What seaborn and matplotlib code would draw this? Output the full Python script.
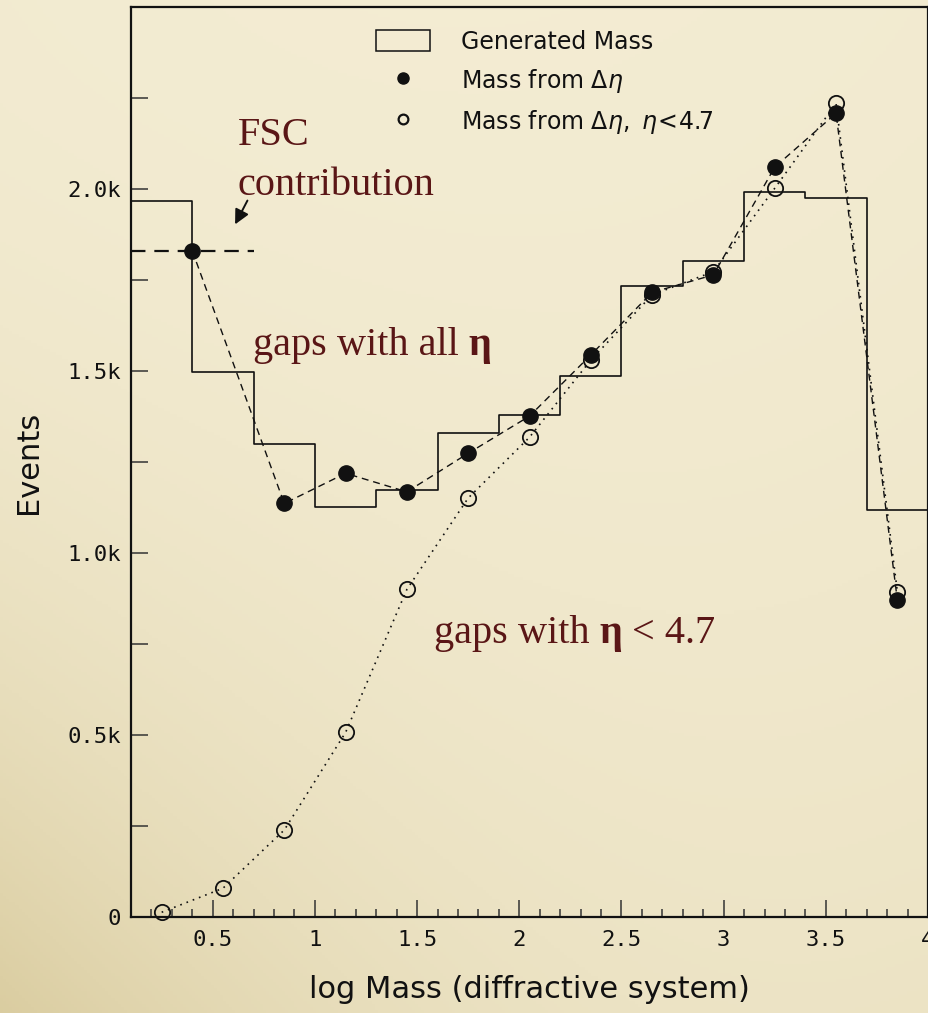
import numpy as np
import matplotlib
matplotlib.use("Agg")
import matplotlib.pyplot as plt
from matplotlib.patches import Rectangle
from matplotlib.lines import Line2D
from matplotlib.ticker import MultipleLocator, FixedLocator, FixedFormatter
import seaborn as sns

# ---- data -------------------------------------------------------------
bin_edges = [0.1, 0.4, 0.7, 1.0, 1.3, 1.6, 1.9, 2.2, 2.5, 2.8, 3.1, 3.4, 3.7, 4.0]
generated_mass = [1968, 1496, 1300, 1127, 1173, 1330, 1379, 1486, 1734, 1803, 1993, 1976, 1118]

gap_all_x = [0.40, 0.85, 1.15, 1.45, 1.75, 2.05, 2.35, 2.65, 2.95, 3.25, 3.55, 3.85]
gap_all_y = [1830, 1136, 1219, 1168, 1274, 1376, 1544, 1716, 1764, 2060, 2208, 871]

gap_cut_x = [0.25, 0.55, 0.85, 1.15, 1.45, 1.75, 2.05, 2.35, 2.65, 2.95, 3.25, 3.55, 3.85]
gap_cut_y = [13, 79, 239, 507, 900, 1151, 1318, 1530, 1709, 1773, 2002, 2235, 894]

fsc_range = [0.1, 0.7]
fsc_value = 1830

y_ticks = [0, 500, 1000, 1500, 2000]
y_tick_labels = ["0", "0.5k", "1.0k", "1.5k", "2.0k"]
x_ticks = [0.5, 1, 1.5, 2, 2.5, 3, 3.5, 4]
x_tick_labels = ["0.5", "1", "1.5", "2", "2.5", "3", "3.5", "4"]

legend_labels = ["Generated Mass", r"Mass from $\Delta\eta$", r"Mass from $\Delta\eta,\ \eta\!<\!4.7$"]

# ---- style -------------------------------------------------------------
sns.set_style("ticks")
plt.rcParams["font.family"] = ["DejaVu Sans"]
plt.rcParams["mathtext.fontset"] = "dejavusans"
plt.rcParams["text.color"] = "#111111"

W, H = 929, 1013
fig = plt.figure(figsize=(W / 100, H / 100), dpi=100)

# parchment backdrop
bg_ax = fig.add_axes([0, 0, 1, 1], zorder=-10)
gx, gy = np.meshgrid(np.linspace(0, 1, 300), np.linspace(0, 1, 330))
light = np.array([244, 237, 212]) / 255.0
dark = np.array([208, 192, 140]) / 255.0
w = 0.16 * gy + 0.50 * (gy * (1 - gx)) ** 2.4
w += 0.10 * ((gx - 0.5) ** 2 + (gy - 0.45) ** 2)
w = np.clip(w, 0, 1)
img = light[None, None, :] * (1 - w[..., None]) + dark[None, None, :] * w[..., None]
bg_ax.imshow(img, extent=[0, 1, 0, 1], aspect="auto", origin="upper")
bg_ax.axis("off")

ax = fig.add_axes([131 / W, 96 / H, 797 / W, 910 / H])
ax.set_facecolor("none")

ink = "#111111"
maroon = "#5a1616"

# generated mass histogram (step outline)
centers = [(a + b) / 2 for a, b in zip(bin_edges[:-1], bin_edges[1:])]
sns.histplot(x=centers, weights=generated_mass, bins=bin_edges, element="step",
             fill=False, color=ink, linewidth=1.2, ax=ax)

# FSC contribution band
sns.lineplot(x=fsc_range, y=[fsc_value] * len(fsc_range), color=ink, linewidth=1.6,
             linestyle=(0, (6.5, 4)), ax=ax)

# reconstructed mass, gaps over all eta
sns.lineplot(x=gap_all_x, y=gap_all_y, color=ink, linewidth=1.0,
             linestyle=(0, (5, 3.5)), marker="o", markersize=11,
             markerfacecolor=ink, markeredgecolor=ink, markeredgewidth=1,
             ax=ax, clip_on=False, zorder=4)

# reconstructed mass, gaps restricted to eta < 4.7
sns.lineplot(x=gap_cut_x, y=gap_cut_y, color=ink, linewidth=1.2,
             linestyle=(0, (1, 3)), marker="o", markersize=11,
             markerfacecolor="none", markeredgecolor=ink, markeredgewidth=1.3,
             ax=ax, clip_on=False, zorder=3)

ax.set_xlim(0.1, 4.0)
ax.set_ylim(0, 2500)

# ticks
ax.xaxis.set_major_locator(FixedLocator(x_ticks))
ax.xaxis.set_major_formatter(FixedFormatter(x_tick_labels))
ax.xaxis.set_minor_locator(MultipleLocator(0.1))
ax.yaxis.set_major_locator(FixedLocator(y_ticks))
ax.yaxis.set_major_formatter(FixedFormatter(y_tick_labels))
ax.yaxis.set_minor_locator(MultipleLocator(250))
ax.tick_params(axis="both", which="both", direction="in", color="#333333",
               top=False, right=False)
ax.tick_params(axis="x", which="major", length=12, width=1.1, pad=9)
ax.tick_params(axis="x", which="minor", length=6, width=1.1)
ax.tick_params(axis="y", which="both", length=12, width=1.1, pad=7)
for lab in ax.get_xticklabels() + ax.get_yticklabels():
    lab.set_fontfamily("DejaVu Sans Mono")
    lab.set_fontsize(16)
    lab.set_color(ink)

for sp in ax.spines.values():
    sp.set_visible(True)
    sp.set_linewidth(1.6)
    sp.set_color(ink)

ax.set_xlabel("log Mass (diffractive system)", fontsize=22, labelpad=18, color=ink)
ax.set_ylabel("Events", fontsize=22, labelpad=18, color=ink)

# legend
handles = [
    Rectangle((0, 0), 1, 1, facecolor="none", edgecolor=ink, linewidth=1.1),
    Line2D([], [], linestyle="none", marker="o", markersize=8,
           markerfacecolor=ink, markeredgecolor=ink),
    Line2D([], [], linestyle="none", marker="o", markersize=7,
           markerfacecolor="none", markeredgecolor=ink, markeredgewidth=1.6),
]
leg = ax.legend(handles, legend_labels, loc="upper left", bbox_to_anchor=(0.307, 0.975),
                frameon=False, fontsize=17, handlelength=2.3, handleheight=1.0,
                handletextpad=1.3, labelspacing=0.55, borderpad=0, borderaxespad=0,
                labelcolor=ink)

# annotations
serif = "Liberation Serif"
ax.text(0.622, 2121, "FSC", family=serif, fontsize=29, color=maroon, ha="left", va="baseline")
ax.text(0.622, 1984, "contribution", family=serif, fontsize=29, color=maroon, ha="left", va="baseline")
ax.annotate("", xy=(0.603, 1896), xytext=(0.676, 1975),
            arrowprops=dict(arrowstyle="-|>", color=ink, lw=1.4, mutation_scale=22))

t1 = ax.text(0.696, 1544, "gaps with all", family=serif, fontsize=29, color=maroon,
             ha="left", va="baseline")
ax.annotate("η", xy=(1, 0), xycoords=t1, xytext=(7, 0), textcoords="offset points",
            family=serif, fontsize=29, fontweight="bold", color=maroon, ha="left", va="bottom")

t2 = ax.text(1.583, 753, "gaps with", family=serif, fontsize=29, color=maroon,
             ha="left", va="baseline")
t3 = ax.annotate("η", xy=(1, 0), xycoords=t2, xytext=(7, 0), textcoords="offset points",
                 family=serif, fontsize=29, fontweight="bold", color=maroon, ha="left", va="bottom")
ax.annotate("< 4.7", xy=(1, 0), xycoords=t3, xytext=(7, 0), textcoords="offset points",
            family=serif, fontsize=29, color=maroon, ha="left", va="bottom")

fig.savefig("out.png", dpi=100)
